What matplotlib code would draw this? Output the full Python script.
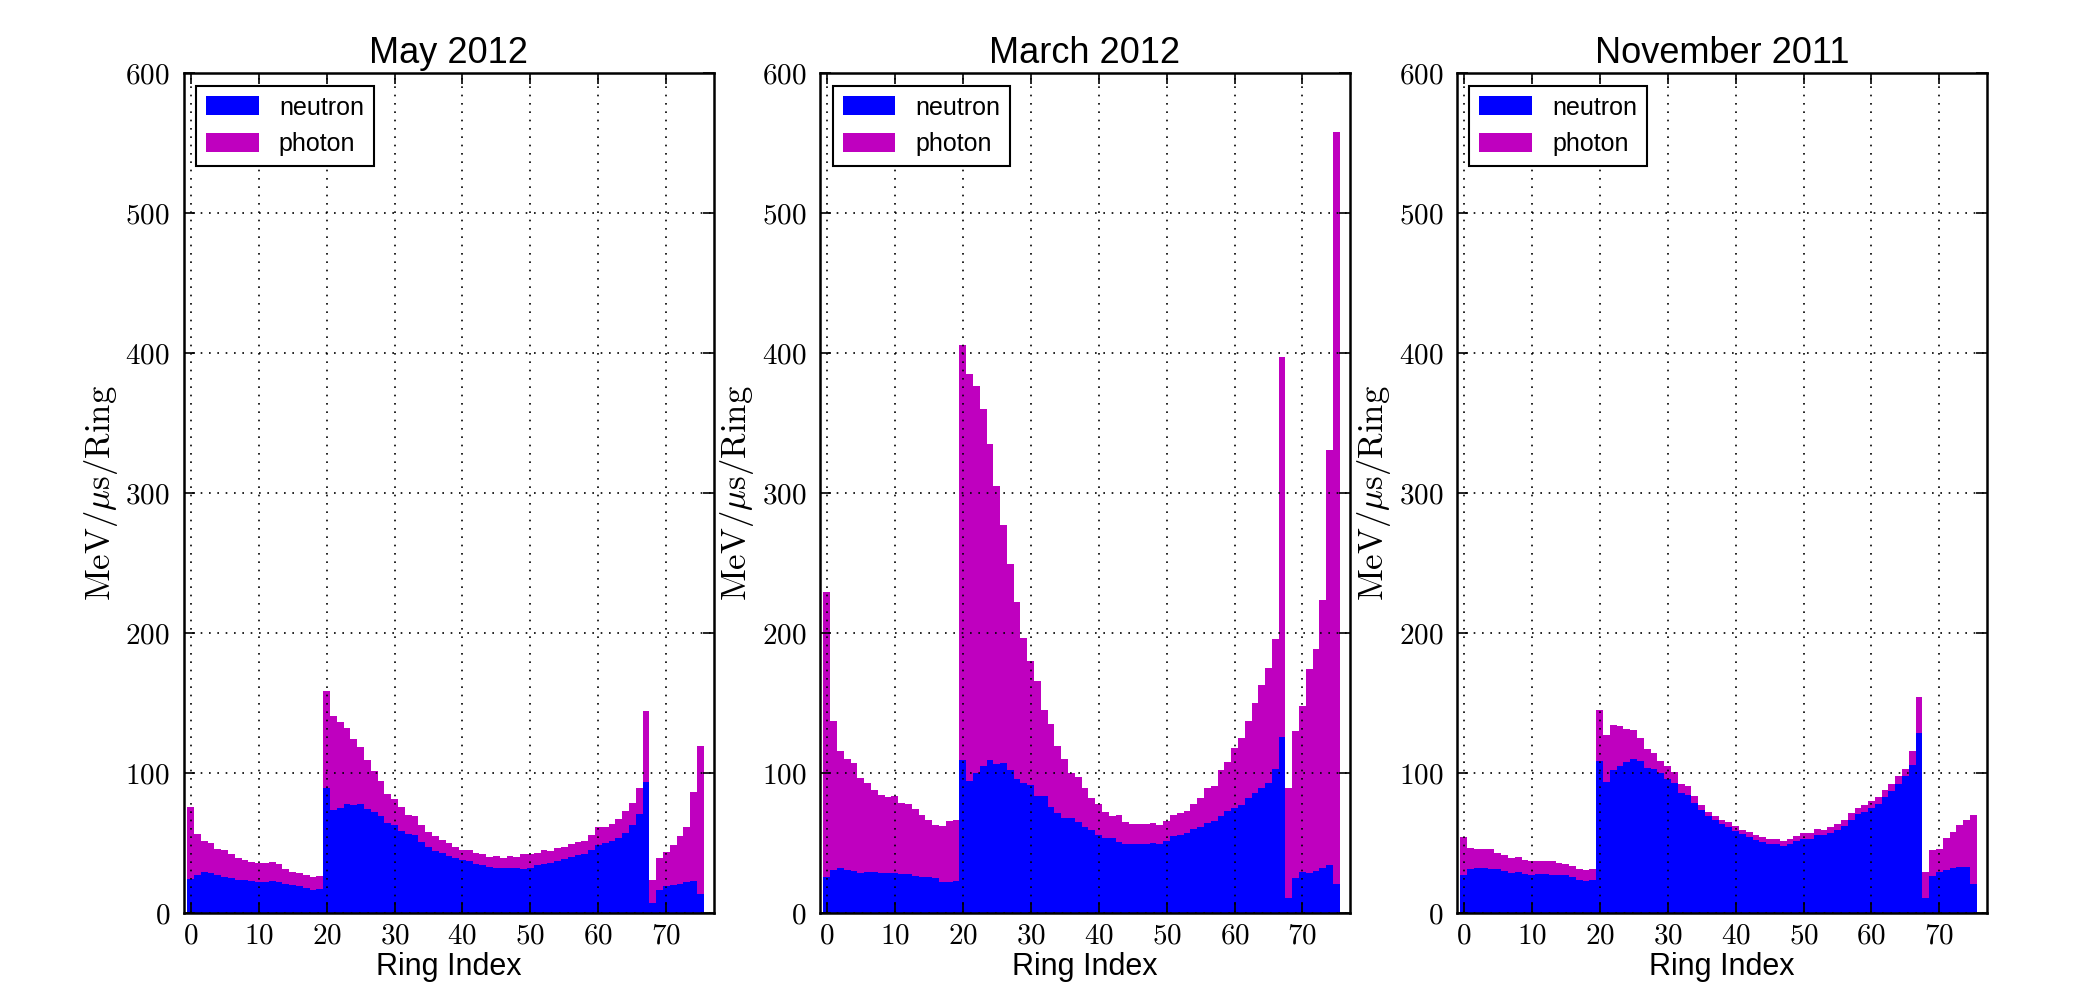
import matplotlib
matplotlib.use('Agg')
import matplotlib.pyplot as plt
from matplotlib.ticker import FuncFormatter

plt.rcParams['font.family'] = ['Liberation Sans', 'DejaVu Sans']
plt.rcParams['mathtext.fontset'] = 'cm'

rings = list(range(76))
titles = ['May 2012', 'March 2012', 'November 2011']

may_neutron = [24.4, 27.0, 29.0, 28.5, 26.8, 25.4, 25.0, 23.4, 23.9, 22.7,
               22.2, 22.2, 23.0, 21.8, 20.8, 19.9, 19.1, 17.9, 16.5, 17.2,
               89.2, 73.4, 75.1, 77.8, 76.8, 78.0, 74.4, 72.2, 69.6, 64.1,
               62.7, 58.6, 56.5, 55.5, 50.5, 47.4, 44.0, 42.8, 40.7, 39.5,
               37.8, 36.8, 35.2, 34.4, 32.8, 32.3, 31.8, 32.3, 31.8, 31.3,
               32.3, 34.0, 34.7, 35.4, 37.1, 38.3, 40.0, 41.6, 42.1, 45.2,
               48.6, 49.8, 51.2, 53.3, 57.2, 62.9, 70.8, 93.3, 6.9, 16.3,
               19.1, 20.1, 21.0, 21.8, 22.7, 13.9]
may_photon = [51.6, 29.7, 22.2, 21.7, 19.2, 19.3, 16.9, 15.6, 13.9, 13.4,
              13.4, 13.2, 13.6, 13.4, 10.8, 9.5, 9.6, 8.9, 9.3, 9.1,
              69.4, 67.3, 61.3, 54.2, 47.8, 40.4, 34.9, 29.5, 24.9, 21.1,
              18.6, 16.8, 13.8, 13.6, 12.2, 10.5, 11.3, 9.1, 9.5, 7.9,
              7.4, 8.4, 7.6, 7.9, 7.4, 8.6, 7.7, 8.1, 7.9, 10.6,
              9.6, 9.0, 10.0, 8.9, 9.6, 8.8, 9.3, 9.4, 9.3, 10.5,
              12.9, 11.7, 12.7, 14.2, 15.8, 15.6, 18.7, 50.7, 16.5, 23.2,
              24.4, 28.5, 34.3, 39.9, 63.7, 105.2]

march_neutron = [25.8, 30.6, 32.2, 30.9, 30.0, 28.4, 29.2, 29.2, 28.4, 28.4,
                 28.4, 27.9, 27.9, 26.6, 25.8, 25.5, 25.0, 22.0, 22.5, 23.1,
                 109.0, 94.4, 99.8, 105.2, 109.2, 106.5, 107.0, 102.0, 96.0, 93.0,
                 91.2, 83.3, 83.5, 75.7, 71.4, 67.9, 67.6, 65.0, 61.2, 59.6,
                 55.4, 53.8, 53.5, 51.0, 49.0, 49.3, 49.5, 49.5, 50.0, 49.5,
                 51.2, 55.0, 55.6, 57.0, 59.7, 61.6, 64.5, 65.6, 69.0, 72.6,
                 75.0, 77.4, 82.0, 85.4, 89.4, 93.2, 103.0, 125.5, 11.0, 25.0,
                 29.1, 28.7, 30.2, 32.0, 34.3, 21.0]
march_photon = [203.2, 106.2, 83.7, 78.8, 77.0, 68.2, 63.9, 58.5, 56.1, 54.5,
                55.3, 50.4, 49.9, 47.4, 44.0, 41.0, 37.8, 40.2, 43.2, 43.4,
                296.7, 290.6, 276.6, 254.6, 225.9, 198.3, 170.4, 147.5, 126.0, 103.4,
                88.6, 82.7, 61.3, 59.5, 48.1, 42.1, 32.2, 32.1, 28.3, 22.3,
                22.5, 18.6, 16.0, 19.2, 15.8, 14.3, 14.1, 14.3, 14.3, 13.6,
                14.8, 14.8, 15.8, 16.0, 18.4, 20.2, 24.7, 25.4, 33.1, 35.4,
                43.0, 47.9, 55.5, 64.6, 73.6, 81.8, 93.0, 271.5, 78.2, 105.1,
                119.1, 145.3, 158.5, 191.7, 296.3, 536.7]

nov_neutron = [27.5, 31.1, 31.8, 31.8, 31.6, 31.1, 29.9, 28.7, 29.4, 28.2,
               27.5, 28.0, 28.2, 27.5, 27.5, 27.0, 25.8, 23.9, 23.0, 23.7,
               108.6, 93.3, 102.2, 105.3, 107.7, 110.3, 108.4, 103.3, 102.9, 100.0,
               95.7, 92.8, 85.6, 84.4, 78.9, 73.7, 69.4, 66.5, 63.5, 61.6,
               58.8, 56.2, 54.5, 52.5, 51.0, 49.4, 49.6, 48.0, 49.2, 51.5,
               53.2, 53.2, 56.0, 55.6, 57.0, 59.0, 62.0, 66.5, 70.5, 72.5,
               75.0, 78.0, 83.0, 87.0, 92.5, 98.0, 105.6, 128.7, 10.7, 26.2,
               29.1, 30.5, 31.9, 32.7, 33.1, 20.7]
nov_photon = [27.0, 15.6, 14.1, 14.1, 14.3, 11.5, 11.5, 10.3, 10.8, 9.6,
              9.3, 9.1, 9.1, 9.8, 8.1, 8.2, 7.7, 7.7, 7.6, 7.4,
              36.6, 34.2, 32.0, 28.2, 23.9, 20.1, 16.5, 13.7, 11.5, 8.6,
              9.1, 7.7, 6.5, 6.5, 4.6, 3.1, 3.0, 2.7, 3.2, 3.5,
              3.4, 3.4, 3.4, 3.5, 3.4, 3.5, 3.6, 3.5, 3.7, 3.8,
              4.0, 4.0, 4.1, 4.0, 4.3, 4.4, 4.7, 5.0, 4.8, 5.0,
              4.9, 5.0, 5.2, 5.3, 5.2, 5.0, 10.0, 25.8, 18.6, 18.6,
              16.7, 22.9, 26.3, 30.5, 33.6, 49.6]

panels = [(may_neutron, may_photon),
          (march_neutron, march_photon),
          (nov_neutron, nov_photon)]

fig = plt.figure(figsize=(20.85, 10), dpi=100)
lefts = [0.0882, 0.3933, 0.6988]
fmt = FuncFormatter(lambda v, p: r'$%d$' % v)

for left, title, (neu, pho) in zip(lefts, titles, panels):
    ax = fig.add_axes([left, 0.087, 0.2542, 0.840])
    ax.bar(rings, neu, width=1.0, color='#0000ff', linewidth=0, label='neutron')
    ax.bar(rings, pho, width=1.0, bottom=neu, color='#bf00bf', linewidth=0,
           label='photon')
    ax.set_xlim(-1, 77)
    ax.set_ylim(0, 600)
    ax.set_xticks(range(0, 71, 10))
    ax.set_yticks(range(0, 601, 100))
    ax.xaxis.set_major_formatter(fmt)
    ax.yaxis.set_major_formatter(fmt)
    ax.grid(True, color='k', linestyle=(0, (1, 4)), linewidth=1.2)
    ax.tick_params(direction='in', top=True, right=True, length=8, width=1.2,
                   labelsize=21)
    ax.tick_params(axis='y', pad=10)
    ax.tick_params(axis='x', pad=6)
    for s in ax.spines.values():
        s.set_linewidth(1.8)
    ax.set_title(title, fontsize=26, pad=7)
    ax.set_xlabel('Ring Index', fontsize=22, labelpad=2)
    ax.set_ylabel(r'$\mathrm{MeV}/\mu\mathrm{s}/\mathrm{Ring}$', fontsize=25)
    leg = ax.legend(loc='upper left', fontsize=18, fancybox=False,
                    edgecolor='k', framealpha=1, handlelength=2.1,
                    handleheight=0.8)
    leg.get_frame().set_linewidth(1.5)

fig.savefig('out.png', dpi=100)
